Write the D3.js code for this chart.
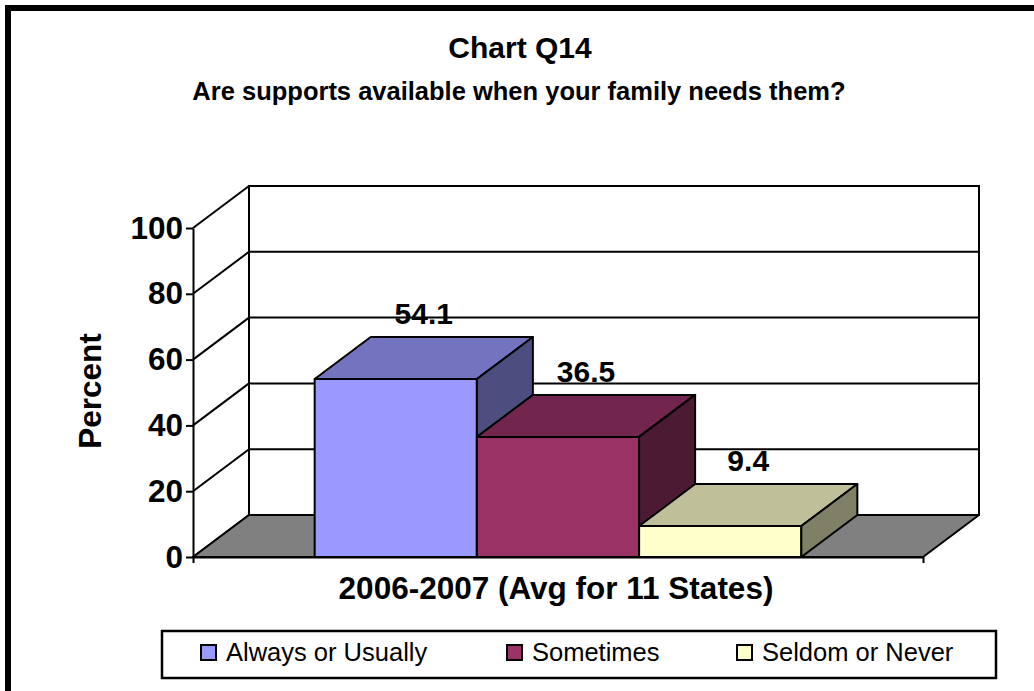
<!DOCTYPE html>
<html>
<head>
<meta charset="utf-8">
<script src="https://cdn.jsdelivr.net/npm/d3@7"></script>
<style>
  html, body { margin: 0; padding: 0; background: #fff; }
  svg { display: block; }
  text { font-family: "Liberation Sans", Arial, sans-serif; }
</style>
</head>
<body>
<svg id="chart" width="1034" height="691"></svg>
<script>
// ---- data ----
const chartTitle = "Chart Q14";
const chartSubtitle = "Are supports available when your family needs them?";
const categories = ["2006-2007 (Avg for 11 States)"];
const seriesNames = ["Always or Usually", "Sometimes", "Seldom or Never"];
const seriesValues = [54.1, 36.5, 9.4];
const seriesColors = ["#9999FF", "#993366", "#FFFFCC"];
const yTicks = [0, 20, 40, 60, 80, 100];
const yAxisTitle = "Percent";

// ---- layout ----
const svg = d3.select("#chart");
const W = 1034, H = 691;
const depthX = 56, depthY = 42;
const plotLeft = 193, plotRight = 923, plotBottom = 557, plotTop = 228;

// outer frame
svg.append("rect")
  .attr("x", 8).attr("y", 8).attr("width", W + 40).attr("height", H + 40)
  .attr("fill", "#fff").attr("stroke", "#000").attr("stroke-width", 6);

const y = d3.scaleLinear().domain([0, 100]).range([plotBottom, plotTop]);
const x0 = d3.scaleBand().domain(categories).range([plotLeft, plotRight])
  .paddingInner(0).paddingOuter(0.25);
const x1 = d3.scaleBand().domain(seriesNames).range([0, x0.bandwidth()]).padding(0);

const lineW = 2;

// back wall
const g = svg.append("g");
g.append("rect")
  .attr("x", plotLeft + depthX).attr("y", y(100) - depthY)
  .attr("width", plotRight - plotLeft).attr("height", y(0) - y(100))
  .attr("fill", "#fff").attr("stroke", "#000").attr("stroke-width", lineW);

// gridlines: side wall diagonals + back wall horizontals
yTicks.forEach(v => {
  g.append("line")
    .attr("x1", plotLeft).attr("y1", y(v))
    .attr("x2", plotLeft + depthX).attr("y2", y(v) - depthY)
    .attr("stroke", "#000").attr("stroke-width", lineW);
  g.append("line")
    .attr("x1", plotLeft + depthX).attr("y1", y(v) - depthY)
    .attr("x2", plotRight + depthX).attr("y2", y(v) - depthY)
    .attr("stroke", "#000").attr("stroke-width", lineW);
});

// floor
const floorPts = [
  [plotLeft, y(0)], [plotRight, y(0)],
  [plotRight + depthX, y(0) - depthY], [plotLeft + depthX, y(0) - depthY]
];
g.append("polygon")
  .attr("points", floorPts.map(p => p.join(",")).join(" "))
  .attr("fill", "#808080").attr("stroke", "#000").attr("stroke-width", lineW)
  .attr("stroke-linejoin", "round");

// bars
function shade(c, k) {
  const r = d3.rgb(c);
  return d3.rgb(Math.round(r.r * k), Math.round(r.g * k), Math.round(r.b * k)).formatHex();
}
const barsG = svg.append("g");
seriesNames.forEach((name, i) => {
  const v = seriesValues[i];
  const xl = x0(categories[0]) + x1(name);
  const xr = xl + x1.bandwidth();
  const yt = y(v), yb = y(0);
  const col = seriesColors[i];
  const pts = a => a.map(p => p.join(",")).join(" ");
  // front
  barsG.append("polygon")
    .attr("points", pts([[xl, yt], [xr, yt], [xr, yb], [xl, yb]]))
    .attr("fill", col).attr("stroke", "#000").attr("stroke-width", lineW).attr("stroke-linejoin", "round");
  // top
  barsG.append("polygon")
    .attr("points", pts([[xl, yt], [xr, yt], [xr + depthX, yt - depthY], [xl + depthX, yt - depthY]]))
    .attr("fill", shade(col, 0.75)).attr("stroke", "#000").attr("stroke-width", lineW).attr("stroke-linejoin", "round");
  // side
  barsG.append("polygon")
    .attr("points", pts([[xr, yt], [xr + depthX, yt - depthY], [xr + depthX, yb - depthY], [xr, yb]]))
    .attr("fill", shade(col, 0.5)).attr("stroke", "#000").attr("stroke-width", lineW).attr("stroke-linejoin", "round");
  // label
  barsG.append("text")
    .attr("x", (xl + xr) / 2 + depthX / 2)
    .attr("y", yt - depthY / 2 - 34)
    .attr("text-anchor", "middle")
    .attr("font-size", 30).attr("font-weight", "bold")
    .text(v.toFixed(1));
});

// y axis
const yAxis = svg.append("g")
  .attr("transform", `translate(${plotLeft},0)`)
  .call(d3.axisLeft(y).tickValues(yTicks).tickSize(7).tickSizeOuter(0).tickPadding(3));
yAxis.selectAll("path, line").attr("stroke", "#000").attr("stroke-width", lineW);
yAxis.selectAll("text")
  .attr("font-family", "'Liberation Sans', Arial, sans-serif")
  .attr("font-size", 31.5).attr("font-weight", "bold").attr("fill", "#000");

// x axis
const xAxis = svg.append("g")
  .attr("transform", `translate(0,${plotBottom})`)
  .call(d3.axisBottom(x0).tickSizeInner(0).tickSizeOuter(6).tickFormat(""));
xAxis.selectAll("path, line").attr("stroke", "#000").attr("stroke-width", lineW);

// axis titles
svg.append("text")
  .attr("x", 556).attr("y", 599)
  .attr("text-anchor", "middle").attr("font-size", 31.5).attr("font-weight", "bold")
  .text(categories[0]);

svg.append("text")
  .attr("transform", "translate(101,391) rotate(-90)")
  .attr("text-anchor", "middle").attr("font-size", 31.5).attr("font-weight", "bold")
  .text(yAxisTitle);

// titles
svg.append("text")
  .attr("x", 520).attr("y", 58)
  .attr("text-anchor", "middle").attr("font-size", 30).attr("font-weight", "bold")
  .text(chartTitle);
svg.append("text")
  .attr("x", 519).attr("y", 100)
  .attr("text-anchor", "middle").attr("font-size", 25.5).attr("font-weight", "bold")
  .text(chartSubtitle);

// legend
const legend = svg.append("g");
legend.append("rect")
  .attr("x", 162).attr("y", 631).attr("width", 834).attr("height", 47)
  .attr("fill", "#fff").attr("stroke", "#000").attr("stroke-width", 2.5);
const legendX = [201, 507, 737];
seriesNames.forEach((name, i) => {
  legend.append("rect")
    .attr("x", legendX[i]).attr("y", 645).attr("width", 15).attr("height", 15)
    .attr("fill", seriesColors[i]).attr("stroke", "#000").attr("stroke-width", 2);
  legend.append("text")
    .attr("x", legendX[i] + 25).attr("y", 661)
    .attr("font-size", 25.5)
    .text(name);
});
</script>
</body>
</html>
